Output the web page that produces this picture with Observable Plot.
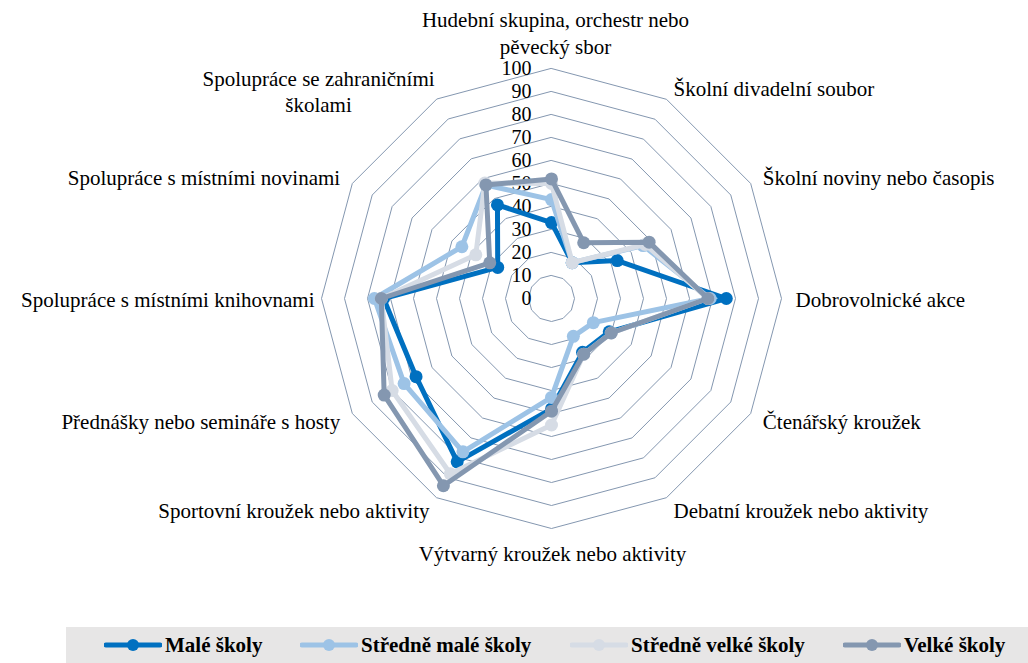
<!DOCTYPE html>
<html>
<head>
<meta charset="utf-8">
<script src="https://cdn.jsdelivr.net/npm/d3@7"></script>
<script src="https://cdn.jsdelivr.net/npm/@observablehq/plot@0.6"></script>
<style>
  body { margin: 0; background: #fff; font-family: 'Liberation Serif', serif; }
  #wrap { width: 1028px; position: relative; }
  #legend { position: relative; margin-left: 66px; width: 962px; height: 36px; background: #e7e6e6; }
  .item { position: absolute; top: 0; height: 36px; display: flex; align-items: center; font-weight: bold; font-size: 21px; color: #000; font-family: 'Liberation Serif', serif; }
  .item svg { margin-right: 3px; }
</style>
</head>
<body>
<div id="wrap">
  <div id="chart"></div>
  <div id="legend"></div>
</div>
<script>
// ---- data ----
const categories = [
  "Hudební skupina, orchestr nebo\npěvecký sbor",
  "Školní divadelní soubor",
  "Školní noviny nebo časopis",
  "Dobrovolnické akce",
  "Čtenářský kroužek",
  "Debatní kroužek nebo aktivity",
  "Výtvarný kroužek nebo aktivity",
  "Sportovní kroužek nebo aktivity",
  "Přednášky nebo semináře s hosty",
  "Spolupráce s místními knihovnami",
  "Spolupráce s místními novinami",
  "Spolupráce se zahraničními\nškolami"
];
const seriesNames = ["Malé školy", "Středně malé školy", "Středně velké školy", "Velké školy"];
const maleSkoly        = [33, 18, 33, 76, 29, 27, 48, 82, 68, 73, 27, 47];
const stredneMaleSkoly = [43, 18, 46, 69, 21, 19, 43, 77, 74, 77, 45, 57];
const stredneVelkeSkoly= [50, 18, 47, 68, 30, 28, 55, 88, 80, 74, 38, 58];
const velkeSkoly       = [52, 28, 49, 68, 30, 28, 49, 94, 84, 74, 31, 57];
const tickValues = [0, 10, 20, 30, 40, 50, 60, 70, 80, 90, 100];
const colors = ["#0070C0", "#9DC3E6", "#D6DCE5", "#8497B0"];

// ---- geometry ----
const W = 1028, H = 627, CX = 551, CY = 298, PX = 2.3; // px per unit
const n = categories.length;
const ang = i => i * 2 * Math.PI / n;
const polar = (i, r) => ({x: r * Math.sin(ang(i)), y: r * Math.cos(ang(i))});

const allSeries = [maleSkoly, stredneMaleSkoly, stredneVelkeSkoly, velkeSkoly];
const points = [];
allSeries.forEach((vals, s) => vals.forEach((v, i) => points.push({series: seriesNames[s], ...polar(i, v)})));

const grid = [];
tickValues.filter(t => t > 0).forEach(t => { for (let i = 0; i < n; i++) grid.push({ring: t, ...polar(i, t)}); });

const pad = 14 / PX;
const labels = categories.map((c, i) => {
  const s = Math.sin(ang(i));
  return {text: c, i, anchor: s > 0.1 ? "start" : s < -0.1 ? "end" : "middle", ...polar(i, 100 + pad)};
});

const FF = "Liberation Serif";
const marks = [
  Plot.line(grid, {x: "x", y: "y", z: "ring", curve: "linear-closed", stroke: "#8497B0", strokeWidth: 1}),
  Plot.text(tickValues, {x: () => 0, y: d => d, text: d => String(d), textAnchor: "end", dx: -20, fontSize: 20, fill: "#000", fontFamily: FF}),
];
seriesNames.forEach((name, s) => {
  const data = points.filter(p => p.series === name);
  marks.push(Plot.line(data, {x: "x", y: "y", curve: "linear-closed", stroke: colors[s], strokeWidth: 5, strokeLinejoin: "round"}));
  marks.push(Plot.dot(data, {x: "x", y: "y", r: 6.5, fill: colors[s], stroke: "none"}));
});
const lab = (filter, opts) => Plot.text(labels.filter(filter), {x: "x", y: "y", text: "text", fontSize: 21, lineHeight: 1.24, fill: "#000", fontFamily: FF, ...opts});
marks.push(lab(d => d.i === 0, {textAnchor: "middle", lineAnchor: "bottom", dx: 4, dy: -1}));
marks.push(lab(d => d.i === 6, {textAnchor: "middle", lineAnchor: "top", dx: 1}));
marks.push(lab(d => d.anchor === "start", {textAnchor: "start", lineAnchor: "middle"}));
marks.push(lab(d => d.anchor === "end" && d.i !== 11 && d.i !== 9, {textAnchor: "end", lineAnchor: "middle"}));
marks.push(lab(d => d.i === 9, {textAnchor: "end", lineAnchor: "middle", dx: 7}));
marks.push(lab(d => d.i === 11, {textAnchor: "middle", lineAnchor: "middle", dx: -111, dy: 3}));

const chart = Plot.plot({
  width: W, height: H, margin: 0,
  x: {domain: [-CX / PX, (W - CX) / PX], range: [0, W], axis: null},
  y: {domain: [-(H - CY) / PX, CY / PX], range: [H, 0], axis: null},
  style: {fontFamily: FF, background: "#fff"},
  marks
});
document.getElementById("chart").appendChild(chart);

// ---- legend ----
const legend = document.getElementById("legend");
const lefts = [38, 234, 504, 777];
seriesNames.forEach((name, s) => {
  const div = document.createElement("div");
  div.className = "item";
  div.style.left = lefts[s] + "px";
  div.innerHTML = `<svg width="58" height="14"><line x1="2" y1="7" x2="56" y2="7" stroke="${colors[s]}" stroke-width="5" stroke-linecap="round"/><circle cx="29" cy="7" r="6" fill="${colors[s]}"/></svg><span>${name}</span>`;
  legend.appendChild(div);
});
</script>
</body>
</html>
